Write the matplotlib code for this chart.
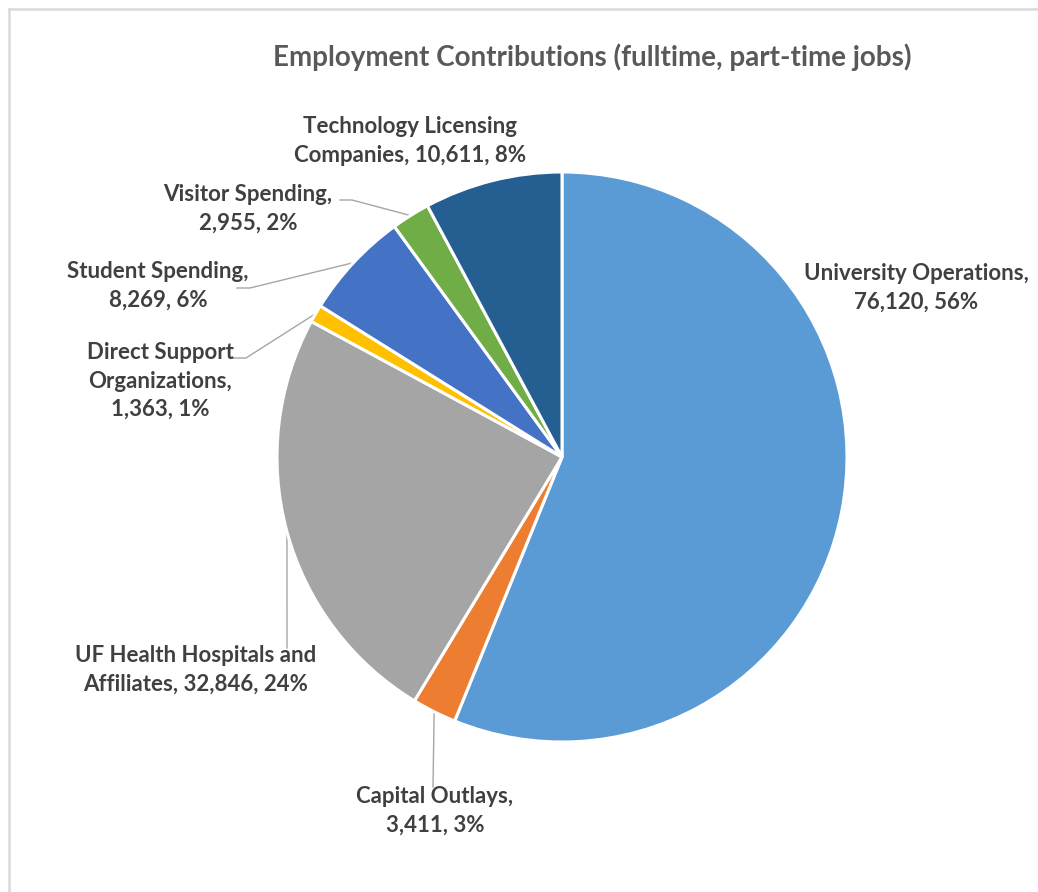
import matplotlib
matplotlib.use("Agg")
import matplotlib.pyplot as plt
from matplotlib.lines import Line2D
import numpy as np

plt.rcParams['font.family'] = ['Lato', 'DejaVu Sans']

W, H = 1038, 892

# data
names = ["University Operations", "Capital Outlays", "UF Health Hospitals and\nAffiliates",
         "Direct Support\nOrganizations", "Student Spending", "Visitor Spending",
         "Technology Licensing\nCompanies"]
values = [76120, 3411, 32846, 1363, 8269, 2955, 10611]
seps = [",\n", ",\n", ", ", ",\n", ",\n", ",\n", ", "]
colors = ["#5B9BD5", "#ED7D31", "#A5A5A5", "#FFC000", "#4472C4", "#70AD47", "#255E91"]
title = "Employment Contributions (fulltime, part-time jobs)"

# label layout (pixel coords, y down) and leader anchors
label_pos = [(916, 288), (435, 811), (196, 670), (160, 381), (158, 286), (248, 209), (410, 141)]
leader_start = [None, [(433, 787)], [(287, 648)], [(233, 358), (246, 358)],
                [(237, 288), (250, 288)], [(340, 200), (352, 200)], None]

cx, cy, r = 562, 457, 285


def py(y):
    return H - y


fig = plt.figure(figsize=(W / 100, H / 100), dpi=100)
ax = fig.add_axes([0, 0, 1, 1])

wedges, _ = ax.pie(values, colors=colors, startangle=90, counterclock=False,
                   center=(cx, py(cy)), radius=r, frame=True,
                   wedgeprops=dict(edgecolor="white", linewidth=2.2))
ax.set_xlim(0, W)
ax.set_ylim(0, H)
ax.axis("off")

total = sum(values)
for i, w in enumerate(wedges):
    pct = round(values[i] / total * 100)
    txt = f"{names[i]}{seps[i]}{values[i]:,}, {pct}%"
    lx, ly = label_pos[i]
    ax.text(lx, py(ly), txt, ha="center", va="center", fontsize=16,
            fontweight="bold", color="#404040", linespacing=1.42)
    if leader_start[i] is not None:
        mid = np.deg2rad((w.theta1 + w.theta2) / 2)
        ex = w.center[0] + w.r * np.cos(mid)
        ey = w.center[1] + w.r * np.sin(mid)
        xs = [p[0] for p in leader_start[i]] + [ex]
        ys = [py(p[1]) for p in leader_start[i]] + [ey]
        ax.plot(xs, ys, color="#A6A6A6", linewidth=1.0, zorder=0)

ax.text(592, py(57), title, ha="center", va="center", fontsize=20,
        fontweight="bold", color="#595959")

# chart border
fig.add_artist(Line2D([9 / W, 1], [1 - 9 / H, 1 - 9 / H], color="#D9D9D9", linewidth=1.8))
fig.add_artist(Line2D([9 / W, 9 / W], [0, 1 - 9 / H], color="#D9D9D9", linewidth=1.8))

fig.savefig("out.png", dpi=100, facecolor="white")
